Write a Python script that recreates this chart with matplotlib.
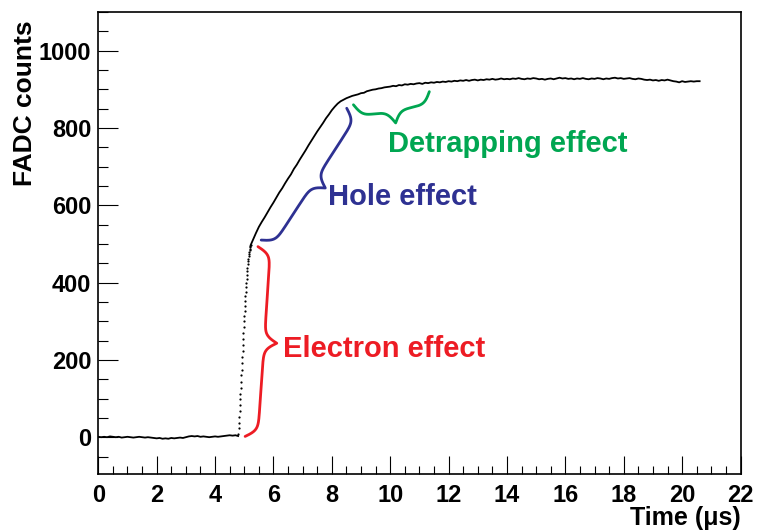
import numpy as np
import matplotlib
matplotlib.use("Agg")
import matplotlib.pyplot as plt
from matplotlib.ticker import MultipleLocator

plt.rcParams['font.family'] = ['Liberation Sans', 'DejaVu Sans']
plt.rcParams['font.weight'] = 'bold'

# ---------------- data ----------------
# baseline before the pulse (us, FADC counts)
pre_t = [0.0, 0.1, 0.2, 0.3, 0.4, 0.5, 0.6, 0.7, 0.8, 0.9,
         1.0, 1.1, 1.2, 1.3, 1.4, 1.5, 1.6, 1.7, 1.8, 1.9,
         2.0, 2.1, 2.2, 2.3, 2.4, 2.5, 2.6, 2.7, 2.8, 2.9,
         3.0, 3.1, 3.2, 3.3, 3.4, 3.5, 3.6, 3.7, 3.8, 3.9,
         4.0, 4.1, 4.2, 4.3, 4.4, 4.5, 4.6, 4.7, 4.79]
pre_y = [1, 0, 1, 0, 2, 1, 0, 1, -1, 0,
         1, 0, -1, 0, 1, 0, -1, 0, -1, -2,
         -3, -2, -4, -3, -4, -2, -3, -2, -1, -2,
         0, 2, 3, 2, 3, 1, 2, 1, 0, 1,
         2, 1, 2, 3, 4, 5, 4, 5, 3]

# fast electron-driven rise (sparse samples, drawn as dots)
rise_t = [4.80, 4.81, 4.82, 4.83, 4.84, 4.85, 4.86, 4.87, 4.88, 4.89,
          4.90, 4.91, 4.92, 4.93, 4.94, 4.95, 4.96, 4.97, 4.98, 4.99,
          5.00, 5.01, 5.02, 5.03, 5.04, 5.05, 5.06, 5.07, 5.08, 5.09,
          5.10, 5.11, 5.12, 5.13, 5.14, 5.15, 5.16, 5.17, 5.18, 5.19,
          5.20, 5.21, 5.22]
rise_y = [8, 23, 38, 53, 68, 83, 98, 113, 128, 144,
          160, 175, 191, 207, 222, 238, 254, 269, 285, 300,
          313, 326, 339, 352, 364, 376, 388, 399, 410, 420,
          430, 439, 447, 455, 462, 469, 475, 480, 484, 488,
          491, 494, 497]

# slower hole component and plateau
post_t = [5.22, 5.3, 5.4, 5.5, 5.6, 5.7, 5.8, 5.9,
          6.0, 6.1, 6.2, 6.3, 6.4, 6.5, 6.6, 6.7, 6.8, 6.9,
          7.0, 7.1, 7.2, 7.3, 7.4, 7.5, 7.6, 7.7, 7.8, 7.9,
          8.0, 8.1, 8.2, 8.3, 8.4, 8.5, 8.6, 8.7, 8.8, 8.9,
          9.0, 9.1, 9.2, 9.3, 9.4, 9.5, 9.6, 9.7, 9.8, 9.9,
          10.0, 10.1, 10.2, 10.3, 10.4, 10.5, 10.6, 10.7, 10.8, 10.9,
          11.0, 11.1, 11.2, 11.3, 11.4, 11.5, 11.6, 11.7, 11.8, 11.9,
          12.0, 12.1, 12.2, 12.3, 12.4, 12.5, 12.6, 12.7, 12.8, 12.9,
          13.0, 13.1, 13.2, 13.3, 13.4, 13.5, 13.6, 13.7, 13.8, 13.9,
          14.0, 14.1, 14.2, 14.3, 14.4, 14.5, 14.6, 14.7, 14.8, 14.9,
          15.0, 15.1, 15.2, 15.3, 15.4, 15.5, 15.6, 15.7, 15.8, 15.9,
          16.0, 16.1, 16.2, 16.3, 16.4, 16.5, 16.6, 16.7, 16.8, 16.9,
          17.0, 17.1, 17.2, 17.3, 17.4, 17.5, 17.6, 17.7, 17.8, 17.9,
          18.0, 18.1, 18.2, 18.3, 18.4, 18.5, 18.6, 18.7, 18.8, 18.9,
          19.0, 19.1, 19.2, 19.3, 19.4, 19.5, 19.6, 19.7, 19.8, 19.9,
          20.0, 20.1, 20.2, 20.3, 20.4, 20.5, 20.6]
post_y = [497, 511, 528, 544, 557, 569, 582, 595,
          607, 620, 633, 644, 657, 669, 680, 694, 705, 718,
          730, 742, 755, 767, 779, 791, 802, 813, 825, 835,
          846, 855, 863, 869, 873, 877, 880, 883, 885, 887,
          890, 891, 895, 897, 899, 900, 902, 903, 905, 906,
          907, 909, 908, 911, 910, 913, 912, 914, 913, 915,
          916, 914, 917, 916, 918, 917, 919, 918, 920, 919,
          921, 920, 922, 921, 923, 922, 924, 922, 924, 925,
          923, 925, 924, 926, 925, 927, 925, 926, 928, 926,
          927, 926, 928, 927, 929, 927, 926, 928, 927, 929,
          928, 926, 927, 925, 927, 928, 926, 928, 930, 928,
          929, 927, 928, 926, 928, 927, 929, 927, 926, 928,
          927, 929, 928, 926, 928, 927, 929, 930, 928, 929,
          927, 928, 929, 927, 926, 928, 927, 925, 924, 925,
          923, 924, 922, 924, 923, 925, 923, 921, 920, 918,
          921, 919, 920, 921, 920, 921, 921]

x_ticks = [0, 2, 4, 6, 8, 10, 12, 14, 16, 18, 20, 22]
y_ticks = [0, 200, 400, 600, 800, 1000]

# annotations: (label, colour, brace end 1, brace end 2, brace tip, text position)
annotations = [
    ("Electron effect", "#ED1C24", (5.03, 2), (5.47, 493), (6.11, 239), (6.33, 207)),
    ("Hole effect", "#2E3192", (5.58, 510), (8.51, 851), (7.77, 644), (7.88, 601)),
    ("Detrapping effect", "#00A651", (8.74, 860), (11.34, 894), (10.11, 812), (9.94, 739)),
]

# ---------------- figure ----------------
W, H = 763, 530
fig = plt.figure(figsize=(W / 100, H / 100), dpi=100)
ax = fig.add_axes([98.3 / W, 1 - 474.3 / H, (740.5 - 98.3) / W, (474.3 - 12) / H])
ax.set_xlim(0, 22)
ax.set_ylim(-96, 1100)

ax.plot(pre_t, pre_y, color='black', lw=1.3)
ax.plot(rise_t, rise_y, linestyle='none', marker='o', ms=1.6, color='black', mew=0)
ax.plot(post_t, post_y, color='black', lw=1.3)

ax.xaxis.set_major_locator(MultipleLocator(2))
ax.xaxis.set_minor_locator(MultipleLocator(0.5))
ax.yaxis.set_major_locator(MultipleLocator(200))
ax.yaxis.set_minor_locator(MultipleLocator(50))
ax.set_xticks(x_ticks)
ax.set_xticklabels([str(v) for v in x_ticks])
ax.set_yticks(y_ticks)
ax.set_yticklabels([str(v) for v in y_ticks])

ax.tick_params(axis='both', which='both', direction='in', top=False, right=False,
               width=0.8, colors='black')
ax.tick_params(axis='x', which='major', length=13, pad=7, labelsize=17)
ax.tick_params(axis='x', which='minor', length=6)
ax.tick_params(axis='y', which='major', length=14.4, pad=5, labelsize=17)
ax.tick_params(axis='y', which='minor', length=7.2)
for lab in ax.get_xticklabels() + ax.get_yticklabels():
    lab.set_fontweight('bold')
for sp in ax.spines.values():
    sp.set_linewidth(1.2)

fig.text(25 / W, 1 - 20 / H, "FADC counts", rotation=90, ha='center', va='top',
         fontsize=19, fontweight='bold')
fig.text(741 / W, 1 - 518 / H, "Time (\u03bcs)", ha='right', va='center',
         fontsize=18, fontweight='bold')


def brace(ax, p1, p2, tip, color, lw=2.0):
    T = ax.transData
    a = T.transform(p1)
    b = T.transform(p2)
    c = T.transform(tip)
    d = b - a
    L = np.hypot(d[0], d[1])
    e = d / L
    n = np.array([-e[1], e[0]])
    w = np.dot(c - (a + b) / 2, n)
    if w < 0:
        n = -n
        w = -w
    beta = 0.28
    u = np.linspace(0, L, 401)
    half = u[:201]
    yh = 1 / (1 + np.exp(-beta * (half - half[0]))) + 1 / (1 + np.exp(-beta * (half - half[-1])))
    v = np.concatenate((yh, yh[-2::-1]))
    v = (v - v[0]) / (v.max() - v[0]) * w
    pts = a[None, :] + u[:, None] * e[None, :] + v[:, None] * n[None, :]
    dpts = T.inverted().transform(pts)
    ax.plot(dpts[:, 0], dpts[:, 1], color=color, lw=lw, solid_capstyle='round',
            solid_joinstyle='round', clip_on=False)


for label, col, e1, e2, tp, txt in annotations:
    brace(ax, e1, e2, tp, col)
    ax.text(txt[0], txt[1], label, color=col, fontsize=21, fontweight='bold',
            ha='left', va='baseline')

fig.savefig("out.png", dpi=100)
